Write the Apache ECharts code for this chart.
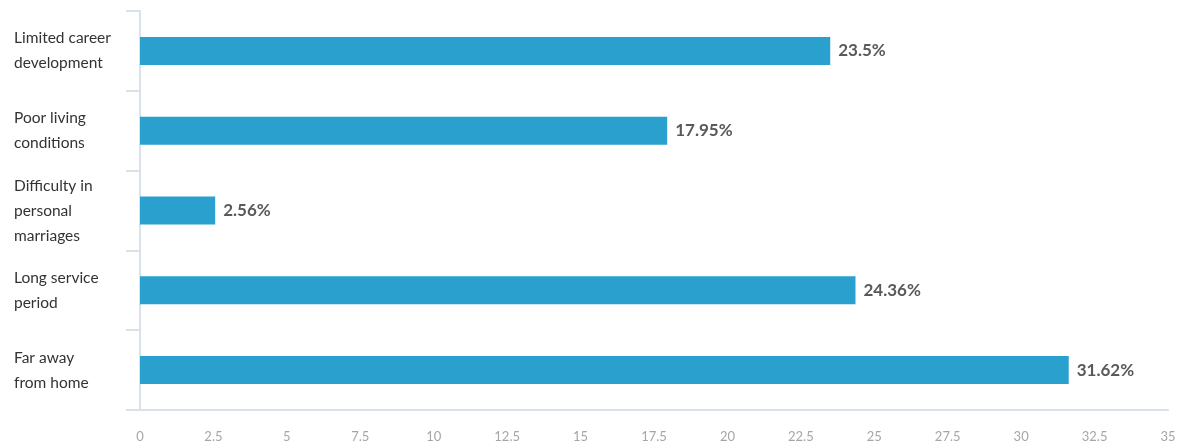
<!DOCTYPE html>
<html><head><meta charset="utf-8">
<script src="https://cdn.jsdelivr.net/npm/echarts@6/dist/echarts.min.js"></script>
<style>html,body{margin:0;padding:0;background:#fff}#c{width:1182px;height:445px}</style>
</head><body><div id="c"></div>
<script>
const categories = ["Limited career\ndevelopment", "Poor living\nconditions", "Difficulty in\npersonal\nmarriages", "Long service\nperiod", "Far away\nfrom home"];
const values = [23.5, 17.95, 2.56, 24.36, 31.62];
const valueLabels = ["23.5%", "17.95%", "2.56%", "24.36%", "31.62%"];
const xMin = 0, xMax = 35, xStep = 2.5;

const chart = echarts.init(document.getElementById('c'));
chart.setOption({
  animation: false,
  textStyle: {fontFamily: 'Lato, "Open Sans", sans-serif'},
  grid: {left: 140, right: 14, top: 11, bottom: 35, containLabel: false},
  xAxis: {
    type: 'value', min: xMin, max: xMax, interval: xStep,
    splitLine: {show: false},
    axisLine: {show: true, lineStyle: {color: '#d9e1ea', width: 2}},
    axisTick: {show: false},
    axisLabel: {color: '#a6a6a6', fontSize: 13, margin: 20, fontFamily: 'Lato, sans-serif'}
  },
  yAxis: {
    type: 'category', data: categories, inverse: true,
    axisLine: {show: true, lineStyle: {color: '#d9e1ea', width: 2}},
    axisTick: {show: true, length: 14, lineStyle: {color: '#d9e1ea', width: 2}},
    axisLabel: {align: 'left', margin: 126, color: '#333', fontSize: 15.5, lineHeight: 25, fontFamily: 'Lato, sans-serif'}
  },
  series: [{
    type: 'bar', data: values, barWidth: 28,
    itemStyle: {color: '#2aa0cf'},
    label: {show: true, position: 'right', distance: 8, color: '#595959', fontSize: 17, fontWeight: 'bold',
      formatter: p => valueLabels[p.dataIndex]}
  }]
});
</script></body></html>
